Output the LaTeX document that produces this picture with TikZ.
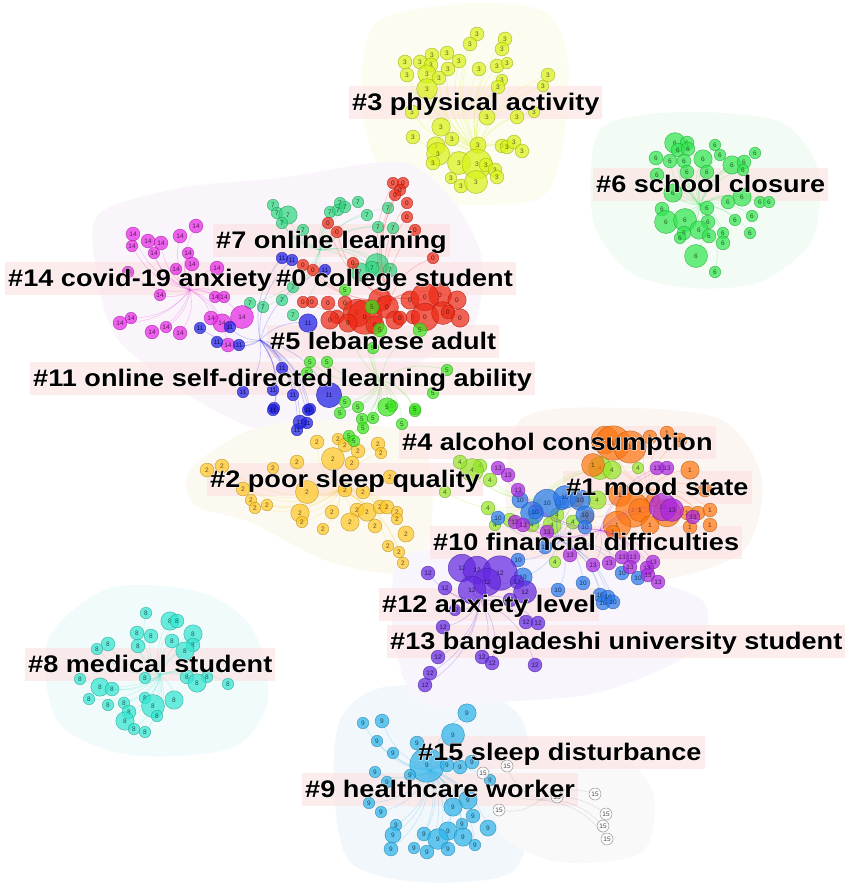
\documentclass[tikz,border=0pt]{standalone}
\usepackage{fontspec}
\newfontfamily\labfont[FakeStretch=1.13]{Liberation Sans}
\newfontfamily\halofont[FakeStretch=1.13,FakeBold=4]{Liberation Sans}
\newfontfamily\numfont{Liberation Sans}
\usetikzlibrary{calc}
\definecolor{cZero}{RGB}{238,40,20}
\definecolor{cOne}{RGB}{255,120,20}
\definecolor{cTwo}{RGB}{255,200,40}
\definecolor{cThree}{RGB}{218,242,25}
\definecolor{cFour}{RGB}{150,230,40}
\definecolor{cFive}{RGB}{60,230,30}
\definecolor{cSix}{RGB}{50,230,80}
\definecolor{cSeven}{RGB}{50,215,130}
\definecolor{cEight}{RGB}{50,230,210}
\definecolor{cNine}{RGB}{45,180,235}
\definecolor{cTen}{RGB}{40,120,235}
\definecolor{cEleven}{RGB}{30,30,230}
\definecolor{cTwelve}{RGB}{100,40,225}
\definecolor{cThirteen}{RGB}{170,40,225}
\definecolor{cFourteen}{RGB}{230,40,230}
\definecolor{cFifteen}{RGB}{150,150,150}
\definecolor{barpink}{RGB}{252,224,224}
\definecolor{hThree}{RGB}{252,252,240}
\definecolor{hSix}{RGB}{243,252,244}
\definecolor{hEight}{RGB}{242,251,251}
\definecolor{hNine}{RGB}{242,247,252}
\definecolor{hFifteen}{RGB}{249,249,250}
\definecolor{hCenter}{RGB}{250,245,251}
\definecolor{hTwo}{RGB}{252,250,240}
\definecolor{hOne}{RGB}{252,246,242}
\definecolor{hTwelve}{RGB}{248,245,252}
\tikzset{
  cn/.style={circle, inner sep=0pt, fill=#1, fill opacity=0.72, draw=#1!70!black,
    draw opacity=0.7, line width=0.5pt, text=#1!35!black, text opacity=0.9,
    font=\numfont\fontsize{6.5}{7}\selectfont},
  ed/.style={draw=#1, draw opacity=0.22, line width=0.7pt},
  hull/.style={fill=#1, draw=none},
  lbar/.style={anchor=base west, fill=barpink, fill opacity=0.6, text opacity=0,
    inner xsep=3pt, inner ysep=5pt, text height=19pt, text depth=4pt,
    font=\labfont\bfseries\fontsize{24}{26}\selectfont},
  ltxt/.style={anchor=base west, inner sep=0pt, text=black,
    font=\labfont\bfseries\fontsize{24}{26}\selectfont},
  lhalo/.style={anchor=base west, inner sep=0pt, text=white,
    font=\halofont\bfseries\fontsize{24}{26}\selectfont}
}
\newcommand\clus[4]{%
  \foreach \x/\y/\r in {#4}{\draw[ed=#1] (#3) to[bend left=25] (\x,\y);}
  \foreach \x/\y/\r in {#4}{\node[cn=#1, minimum size={2.3*\r*1pt}] at (\x,\y) {#2};}}
\begin{document}
\begin{tikzpicture}[x=1pt,y=-1pt]
\useasboundingbox (0,0) rectangle (851,886);
\fill[white] (0,0) rectangle (851,886);
% hulls
\fill[hull=hThree] plot[smooth cycle] coordinates {(380,20) (470,3) (545,12) (568,60) (562,150) (540,198) (470,205) (400,198) (368,140) (362,70)};
\fill[hull=hSix] plot[smooth cycle] coordinates {(600,130) (680,112) (780,122) (818,170) (812,240) (760,282) (690,288) (630,272) (593,220)};
\fill[hull=hEight] plot[smooth cycle] coordinates {(48,640) (110,588) (200,592) (252,628) (268,700) (232,748) (130,755) (58,722)};
\fill[hull=hNine] plot[smooth cycle] coordinates {(340,720) (380,688) (470,688) (522,720) (532,800) (512,872) (420,882) (350,862) (334,790)};
\fill[hull=hFifteen] plot[smooth cycle] coordinates {(500,752) (600,742) (652,790) (642,852) (560,862) (500,832)};
\fill[hull=hCenter] plot[smooth cycle] coordinates {(98,215) (180,188) (280,178) (400,162) (452,200) (482,260) (472,330) (420,362) (350,425) (270,432) (200,402) (120,342) (98,280)};
\fill[hull=hTwo] plot[smooth cycle] coordinates {(190,470) (250,430) (330,420) (420,440) (432,520) (412,572) (330,562) (250,522) (195,505)};
\fill[hull=hOne] plot[smooth cycle] coordinates {(520,420) (620,408) (722,420) (762,480) (742,552) (650,582) (560,572) (508,520)};
\fill[hull=hTwelve] plot[smooth cycle] coordinates {(400,560) (480,548) (600,568) (702,600) (692,652) (600,692) (500,702) (420,702) (394,640)};
% label bars
\foreach \x/\y/\t in {352/110/{\#3 physical activity}, 596/192/{\#6 school closure}, 216/248/{\#7 online learning}, 8/286/{\#14 covid-19 anxiety}, 276/286/{\#0 college student}, 270/349/{\#5 lebanese adult}, 33/386/{\#11 online self-directed learning ability}, 402/450/{\#4 alcohol consumption}, 210/487/{\#2 poor sleep quality}, 566/495/{\#1 mood state}, 433/550/{\#10 financial difficulties}, 382/612/{\#12 anxiety level}, 390/649/{\#13 bangladeshi university student}, 28/672/{\#8 medical student}, 418/760/{\#15 sleep disturbance}, 305/797/{\#9 healthcare worker}}
  {\node[lbar] at (\x-3,\y) {\t};}
% clusters
\clus{cThree}{3}{477,150}{477/34/6, 505/39/6, 470/44/6, 502/49/6, 432/55/6, 447/53/6, 405/62/6, 420/62/6, 431/65/6, 459/61/6, 448/69/6, 427/74/8, 439/78/6, 407/75/6, 479/69/6, 497/66/6, 507/63/5, 548/75/6, 502/80/5, 498/87/6, 543/86/5, 427/89/9, 412/112/6, 487/117/7, 517/117/6, 534/112/5, 441/127/8, 413/137/6, 452/139/6, 436/146/8, 438/154/10, 433/163/6, 478/145/7, 459/163/10, 477/164/13, 486/165/6, 495/170/6, 502/146/6, 507/147/6, 514/142/6, 522/151/6, 451/178/5, 461/186/6, 476/182/10, 497/177/6}
\clus{cSix}{6}{700,205}{675/143/9, 687/143/6, 678/150/6, 688/149/6, 715/145/5, 656/158/6, 670/161/6, 684/161/6, 703/159/8, 720/155/5, 755/153/5, 732/165/8, 744/162/6, 743/170/5, 687/172/6, 707/172/6, 657/175/6, 673/193/8, 742/197/8, 728/202/6, 760/202/5, 769/202/5, 662/209/6, 707/208/6, 666/222/10, 685/220/10, 708/222/6, 752/216/5, 735/220/5, 699/230/8, 709/236/6, 684/233/6, 680/238/5, 723/233/5, 723/243/6, 750/233/5, 696/256/10, 715/272/5}
\clus{cEight}{8}{160,675}{146/613/5, 170/621/8, 177/621/6, 137/633/6, 151/636/6, 172/641/6, 193/634/8, 193/645/6, 138/646/6, 108/644/6, 97/649/5, 185/651/8, 187/677/6, 207/677/5, 197/683/8, 228/684/5, 80/679/5, 145/678/5, 100/687/8, 112/689/6, 89/699/5, 145/698/5, 174/700/8, 108/705/5, 124/703/5, 153/706/10, 129/712/6, 157/716/5, 125/721/8, 134/729/5, 145/732/5}
\clus{cNine}{9}{430,770}{467/713/8, 363/723/5, 382/721/6, 377/741/5, 453/735/10, 417/743/6, 393/753/5, 427/765/15, 447/765/6, 460/767/6, 472/762/6, 375/772/5, 410/775/5, 387/782/5, 490/780/5, 468/800/8, 369/803/5, 453/807/8, 381/812/5, 473/816/6, 396/825/5, 462/824/5, 488/828/7, 393/835/7, 424/834/6, 448/831/8, 438/839/9, 463/837/8, 391/849/6, 414/848/5, 427/852/6, 448/849/6, 475/845/5}
\foreach \x/\y in {483/773, 507/766, 499/810, 557/797, 595/794, 606/814, 603/826, 607/839}
  {\draw[ed=cFifteen] (540,800) to[bend left=25] (\x,\y);
   \node[cn=cFifteen, fill=white, minimum size=12pt] at (\x,\y) {15};}
\clus{cTwo}{2}{340,490}{317/442/6, 338/439/5, 345/445/6, 378/444/6, 381/453/5, 333/459/10, 358/451/6, 352/463/6, 297/462/6, 273/468/5, 222/466/6, 243/489/6, 307/492/10, 345/490/6, 363/492/6, 390/477/6, 251/500/5, 255/508/5, 267/505/5, 300/513/8, 302/522/5, 332/512/6, 357/510/6, 367/512/8, 380/507/6, 387/507/6, 397/512/5, 397/519/5, 350/522/8, 375/526/6, 323/529/5, 406/534/7, 388/546/5, 399/552/5, 403/563/5, 207/470/6}
\clus{cSeven}{7}{320,250}{273/205/5, 277/213/5, 288/215/8, 282/223/5, 340/203/5, 330/212/5, 338/210/5, 345/207/5, 358/202/5, 367/215/5, 388/208/5, 378/227/5, 393/228/5, 282/300/5, 293/287/5, 293/315/5, 263/307/5, 250/303/5, 377/265/10, 390/270/6, 372/268/6, 360/272/8, 303/230/5}
\clus{cFourteen}{14}{190,290}{196/226/6, 133/234/6, 132/246/5, 148/241/6, 161/243/6, 154/253/5, 180/236/6, 188/253/5, 192/264/6, 176/269/5, 217/268/6, 128/272/5, 160/295/5, 215/297/5, 224/297/5, 242/317/10, 222/323/8, 120/323/6, 131/318/5, 152/332/6, 166/327/5, 180/333/6, 228/345/6, 211/318/6}
\clus{cEleven}{11}{260,340}{200/328/5, 217/342/5, 230/327/5, 239/345/5, 282/258/5, 292/260/5, 308/323/8, 329/395/11, 282/368/5, 273/390/5, 293/395/5, 274/408/5, 310/409/5, 243/392/5, 325/270/5, 273/410/5, 308/410/5, 300/422/6, 297/430/5, 307/423/5}
\clus{cZero}{0}{390,300}{393/183/5, 403/183/5, 400/190/5, 395/195/5, 407/203/5, 407/217/5, 415/230/5, 328/223/5, 337/232/5, 313/270/5, 303/265/5, 312/302/5, 303/302/5, 328/303/6, 337/317/6, 345/303/6, 330/320/8, 357/313/12, 380/300/10, 365/317/15, 348/323/8, 375/325/8, 387/307/10, 395/320/8, 410/300/8, 400/318/6, 413/317/6, 440/295/10, 425/297/12, 425/317/12, 443/313/10, 460/318/8, 457/300/8, 448/312/6, 433/258/5, 353/263/5}
\clus{cFive}{5}{380,380}{392/406/5, 340/413/5, 362/419/5, 373/418/5, 415/411/5, 363/428/5, 349/436/5, 354/441/5, 402/424/5, 310/362/5, 307/373/5, 327/362/5, 345/402/5, 358/407/5, 387/407/8, 415/409/5, 372/307/6, 447/370/5, 433/393/5, 373/348/5, 380/330/6, 420/330/6, 345/290/5}
\clus{cFour}{4}{540,500}{490/480/6, 480/466/6, 472/470/10, 460/462/6, 445/492/5, 488/508/6, 495/525/5, 552/525/8, 557/515/6, 573/522/6, 597/500/8, 600/468/10, 612/470/8, 638/468/5, 555/562/5, 532/525/6, 510/520/6}
\clus{cOne}{1}{650,490}{593/465/10, 605/440/12, 613/443/15, 630/447/14, 650/437/6, 667/433/6, 680/440/6, 690/470/8, 705/490/6, 620/495/10, 653/500/6, 633/510/15, 640/510/10, 667/513/12, 687/513/6, 698/513/6, 710/510/6, 710/525/6, 690/527/6, 650/525/8, 617/525/12, 613/532/6, 577/500/6, 587/517/6}
\clus{cTen}{10}{560,540}{547/503/12, 532/513/10, 535/512/6, 562/503/6, 565/497/10, 580/500/9, 520/500/7, 585/515/8, 498/518/6, 585/527/6, 518/560/6, 523/577/8, 558/590/6, 583/583/6, 600/595/6, 603/603/6, 608/597/6, 613/602/6, 622/573/6, 638/578/6, 545/547/6}
\clus{cThirteen}{13}{600,530}{498/468/6, 508/475/6, 518/490/6, 515/522/6, 523/525/6, 547/532/6, 570/555/6, 593/565/6, 609/563/6, 633/557/6, 653/562/6, 647/568/6, 648/575/6, 658/582/6, 663/507/12, 672/510/10, 693/517/6, 667/468/6, 657/468/6, 630/567/6, 622/557/6}
\clus{cTwelve}{12}{480,600}{462/568/12, 477/570/12, 500/573/15, 487/582/12, 472/590/12, 428/573/6, 445/588/6, 517/582/6, 525/592/10, 510/600/6, 455/610/5, 526/622/6, 538/623/6, 443/627/6, 482/657/6, 492/663/6, 535/665/6, 438/657/6, 430/673/6, 425/685/6}
% labels
\foreach \x/\y/\t in {352/110/{\#3 physical activity}, 596/192/{\#6 school closure}, 216/248/{\#7 online learning}, 8/286/{\#14 covid-19 anxiety}, 276/286/{\#0 college student}, 270/349/{\#5 lebanese adult}, 33/386/{\#11 online self-directed learning ability}, 402/450/{\#4 alcohol consumption}, 210/487/{\#2 poor sleep quality}, 566/495/{\#1 mood state}, 433/550/{\#10 financial difficulties}, 382/612/{\#12 anxiety level}, 390/649/{\#13 bangladeshi university student}, 28/672/{\#8 medical student}, 418/760/{\#15 sleep disturbance}, 305/797/{\#9 healthcare worker}}
  {\node[lhalo] at (\x,\y) {\t};
   \node[ltxt] at (\x,\y) {\t};}
\end{tikzpicture}
\end{document}
